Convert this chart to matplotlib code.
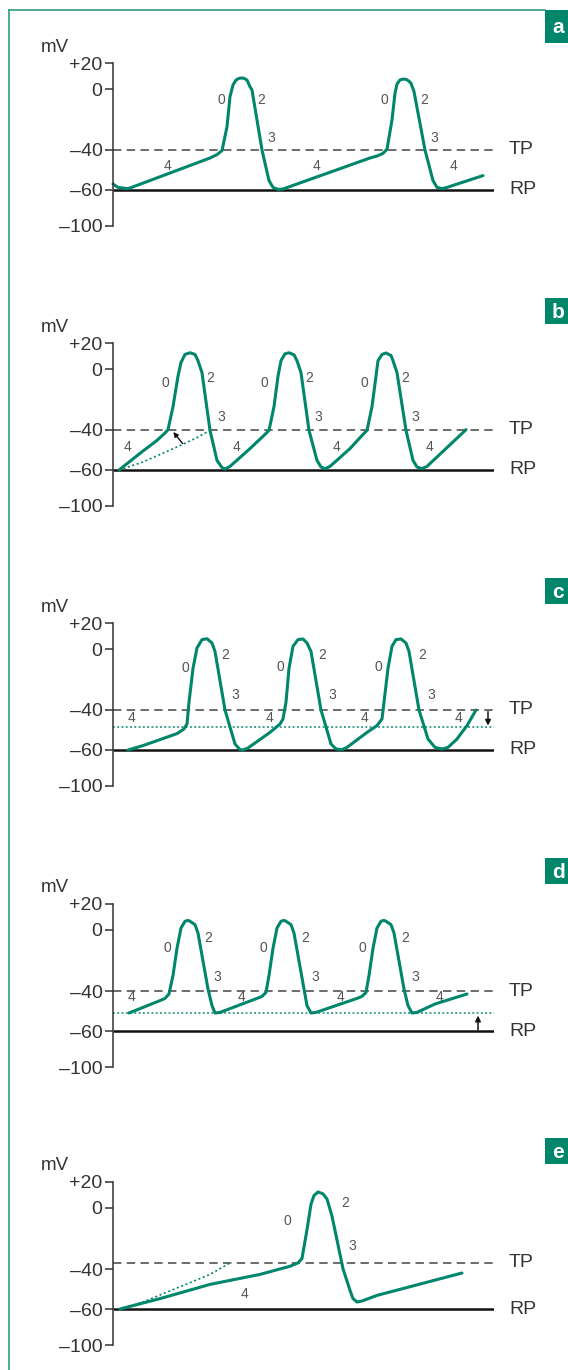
import numpy as np
import matplotlib
matplotlib.use('Agg')
import matplotlib.pyplot as plt
from matplotlib.patches import Rectangle
from matplotlib.lines import Line2D

plt.rcParams['font.family'] = ['Liberation Sans', 'DejaVu Sans']

GREEN = '#00866b'
BORDER = '#2f9c82'
INK = '#333333'

# voltage axis of the drawing is not linear: tick values and their spacing
mv_ticks = [20, 0, -40, -60, -100]
mv_ticklabels = ['+20', '0', '–40', '–60', '–100']
mv_knots = [-100, -60, -40, 0, 20]
px_knots = [0, 36, 76, 137, 163]

# panel a: normal pacemaker potential
a_t = [0, 5, 14, 17, 97, 104, 109, 114, 117, 120, 123, 126, 129, 131, 134, 137, 139, 149, 156, 160, 165, 170,
       257, 264, 270, 274, 279, 282, 284, 287, 290, 293, 296, 298, 301, 312, 320, 324, 329, 334, 370]
a_v = [-57, -58.7, -59.3, -59, -44, -42.3, -40.3, -24.7, -5, 3.1, 6.9, 8.2, 8.5, 8.2, 6.9, 1.8, -0.7, -40, -55.3, -58.7, -59.7, -59.5,
       -44, -43, -41.7, -39.5, -20.3, -2.8, 3.8, 7.0, 7.6, 7.4, 6.0, 4.4, -1.7, -40, -55.3, -58.7, -59.3, -58.7, -52.8]
a_tp = -40
a_lbl = ['0', '2', '3', '4', '4', '0', '2', '3', '4']
a_lbl_t = [108, 148, 158, 54, 203, 271, 311, 321, 340]
a_lbl_v = [-7.2, -7.2, -32, -48, -48, -7.2, -7.2, -32, -48]

# panel b: steeper phase 4
b_t = [6, 30, 44, 52, 55, 60, 65, 68, 72, 77, 82, 85, 89, 97, 104, 109, 112, 117, 137, 152, 156,
       161, 165, 168, 172, 176, 181, 184, 188, 196, 204, 208, 212, 217, 237, 250, 254,
       259, 263, 265, 269, 273, 278, 280, 284, 293, 300, 304, 309, 314, 353]
b_v = [-60, -50.5, -45.2, -41.5, -39.8, -24.7, -4.7, 5, 11.2, 12.5, 11.2, 6.4, -2.4, -40.2, -55.2, -58.8, -59.5, -58.2, -49.3, -42.2, -40.2,
       -24.7, -4.7, 6.4, 11.7, 12.5, 10.9, 6.4, -2.4, -40.2, -55.2, -58.5, -59.3, -58.2, -49.3, -42.2, -40.2,
       -24.7, -4.7, 6.4, 11.2, 12.3, 10.4, 6.4, -2.4, -40.2, -55.2, -58.5, -59.3, -58.2, -39.8]
b_tp = -40
b_dot_t = [6, 30, 64, 84, 97]
b_dot_v = [-60, -56.0, -48.5, -43.8, -40.2]
b_lbl = ['4', '0', '2', '3', '4', '0', '2', '3', '4', '0', '2', '3', '4']
b_lbl_t = [15, 52, 97, 108, 123, 151, 196, 205, 223, 251, 292, 302, 316]
b_lbl_v = [-48.5, -9.1, -5.8, -31.3, -48.5, -9.1, -5.8, -31.3, -48.5, -9.1, -5.8, -31.3, -48.5]

# panel c: lowered threshold
c_t = [15, 30, 64, 71, 74, 76, 80, 84, 89, 94, 99, 102, 112, 122, 127, 130, 135, 157, 167, 170,
       173, 176, 180, 185, 190, 194, 198, 208, 218, 223, 229, 234, 254, 264, 269,
       271, 275, 279, 283, 288, 293, 296, 306, 315, 322, 329, 335, 344, 354, 363]
c_v = [-60, -57.8, -51.8, -49.5, -47, -34.9, -12.7, 0.8, 7.2, 7.9, 4.6, -1.6, -40, -57, -59.8, -60, -59, -51.2, -47, -44.5,
       -34.9, -12.7, 2.1, 7.2, 7.7, 4.6, -1.6, -40, -57, -59.5, -59.8, -58.7, -51.2, -47.8, -44.5,
       -34.9, -12.7, 2.1, 7.2, 7.7, 4.6, -1.6, -40, -54.5, -58.7, -59.5, -58.7, -54.5, -47.8, -40]
c_tp = -40
c_new_level = -48.5
c_lbl = ['4', '0', '2', '3', '4', '0', '2', '3', '4', '0', '2', '3', '4']
c_lbl_t = [18, 72, 112, 122, 156, 167, 209, 219, 251, 265, 309, 318, 345]
c_lbl_v = [-44.2, -12.7, -4.2, -30.4, -44.2, -11.6, -4.2, -30.4, -44.2, -11.6, -4.2, -30.4, -44.2]

# panel d: raised maximum diastolic potential
d_t = [16, 47, 52, 56, 60, 64, 68, 72, 75, 77, 82, 85, 95, 99, 102, 107, 144, 149, 153,
       156, 160, 164, 168, 171, 173, 178, 181, 191, 194, 198, 203, 244, 249, 253,
       256, 260, 264, 268, 271, 273, 278, 281, 291, 295, 299, 304, 322, 354]
d_v = [-51, -44.8, -43.7, -41.5, -29.8, -12, 1.5, 6.7, 7.4, 6.7, 4.1, -2, -38.7, -47.3, -51, -50.7, -43.7, -42.7, -40.7,
       -29.8, -12, 1.5, 6.7, 7.4, 6.7, 4.1, -2, -38.7, -47.3, -51, -50.7, -43.7, -42.7, -40.7,
       -29.8, -12, 1.5, 6.7, 7.4, 6.7, 4.1, -2, -38.7, -47.3, -51, -50.7, -46.5, -41.5]
d_tp = -40
d_new_level = -51
d_lbl = ['4', '0', '2', '3', '4', '0', '2', '3', '4', '0', '2', '3', '4']
d_lbl_t = [19, 54, 95, 104, 128, 150, 192, 202, 227, 249, 292, 302, 326]
d_lbl_v = [-43.2, -11.6, -5.3, -30.9, -43.2, -11.6, -5.3, -30.9, -43.2, -11.6, -5.3, -30.9, -43.2]

# panel e: flatter phase 4, higher threshold
e_t = [7, 47, 97, 147, 177, 185, 189, 194, 198, 201, 205, 210, 214, 219, 230, 237, 240, 244, 249, 264, 349]
e_v = [-60, -54.8, -47.7, -42.7, -38.2, -36, -33.1, -14.2, 2.9, 9.6, 12.3, 10.9, 6.9, -5.3, -39.8, -50.7, -54.8, -56.5, -56, -53.2, -42]
e_tp = -36
e_dot_t = [7, 30, 64, 97, 117]
e_dot_v = [-60, -56.5, -49.5, -42.7, -36]
e_lbl = ['0', '2', '3', '4']
e_lbl_t = [174, 232, 239, 131]
e_lbl_v = [-8.7, 3.8, -24.9, -52.7]

rp = -60
letters = ['a', 'b', 'c', 'd', 'e']
offsets = [0, 280, 560, 841, 1119]   # vertical shift of each panel in px
tabs = [(10, 43), (298, 324), (578, 604), (858, 884), (1138, 1164)]

W, H = 568, 1370
fig = plt.figure(figsize=(W / 100, H / 100), dpi=100)

# frame: thin green rule on top and left, letter tabs
bg = fig.add_axes([0, 0, 1, 1])
bg.set_xlim(0, W)
bg.set_ylim(H, 0)
bg.axis('off')
bg.add_line(Line2D([9, 545], [10, 10], color=BORDER, lw=1.2))
bg.add_line(Line2D([9, 9], [10, H], color=BORDER, lw=1.2))
for (y0, y1), let in zip(tabs, letters):
    bg.add_patch(Rectangle((545, y0), 23, y1 - y0, color=GREEN, lw=0))
    bg.text(552, (y0 + y1) / 2 + 1, let, color='white', fontsize=15, fontweight='bold',
            ha='left', va='center')


def fwd(v):
    return np.interp(v, mv_knots, px_knots)


def inv(y):
    return np.interp(y, px_knots, mv_knots)


panels = [
    (a_t, a_v, a_tp, None, None, None, a_lbl, a_lbl_t, a_lbl_v),
    (b_t, b_v, b_tp, (b_dot_t, b_dot_v), None, None, b_lbl, b_lbl_t, b_lbl_v),
    (c_t, c_v, c_tp, None, c_new_level, (375, -40.8, -47.8), c_lbl, c_lbl_t, c_lbl_v),
    (d_t, d_v, d_tp, None, d_new_level, (365, -59.5, -52.3), d_lbl, d_lbl_t, d_lbl_v),
    (e_t, e_v, e_tp, (e_dot_t, e_dot_v), None, None, e_lbl, e_lbl_t, e_lbl_v),
]

left, right = 113, 494
for k, (t, v, tp, dot, level, arr, lbl, lt, lv) in enumerate(panels):
    top = 63 + offsets[k]
    bot = 226 + offsets[k]
    ax = fig.add_axes([left / W, 1 - bot / H, (right - left) / W, (bot - top) / H])
    ax.set_yscale('function', functions=(fwd, inv))
    ax.set_ylim(-100, 20)
    ax.set_xlim(0, right - left)
    ax.patch.set_alpha(0)
    for s in ['top', 'right', 'bottom']:
        ax.spines[s].set_visible(False)
    ax.spines['left'].set_color(INK)
    ax.spines['left'].set_linewidth(1.1)
    ax.set_xticks([])
    ax.set_yticks(mv_ticks)
    ax.set_yticklabels(mv_ticklabels)
    ax.tick_params(axis='y', length=6, width=1.1, color=INK, labelcolor=INK, labelsize=14, pad=1.5)
    ax.minorticks_off()

    # resting potential and threshold
    ax.plot([0, right - left], [rp, rp], color='#111111', lw=1.8, solid_capstyle='butt')
    ax.plot([0, right - left], [tp, tp], color='#444444', lw=1.1, linestyle=(0, (5.5, 3.5)))
    ax.text(396, tp, 'TP', fontsize=14, color=INK, ha='left', va='center')
    ax.text(396, rp, 'RP', fontsize=14, color=INK, ha='left', va='center')

    if level is not None:
        ax.plot([0, right - left], [level, level], color=GREEN, lw=1.1, linestyle=(0, (1.2, 1.6)))
    if dot is not None:
        ax.plot(dot[0], dot[1], color=GREEN, lw=1.2, linestyle=(0, (1.2, 1.6)))
    if arr is not None:
        ax.annotate('', xy=(arr[0], arr[2]), xytext=(arr[0], arr[1]),
                    arrowprops=dict(arrowstyle='-|>', color='#111111', lw=1.1,
                                    mutation_scale=8, shrinkA=0, shrinkB=0))
    if k == 1:
        ax.annotate('', xy=(60.3, -41), xytext=(69.7, -46.8),
                    arrowprops=dict(arrowstyle='-|>', color='#111111', lw=1.0,
                                    mutation_scale=7, shrinkA=0, shrinkB=0))

    ax.plot(t, v, color=GREEN, lw=2.2, solid_joinstyle='round', solid_capstyle='round', clip_on=False)

    for s_, x_, y_ in zip(lbl, lt, lv):
        ax.text(x_, y_, s_, fontsize=10, color='#555555', ha='center', va='center')

    ax.text((41 - left) / (right - left), 1 + 16 / (bot - top), 'mV', transform=ax.transAxes,
            fontsize=13.5, color=INK, ha='left', va='center')

fig.savefig('out.png', dpi=100)
